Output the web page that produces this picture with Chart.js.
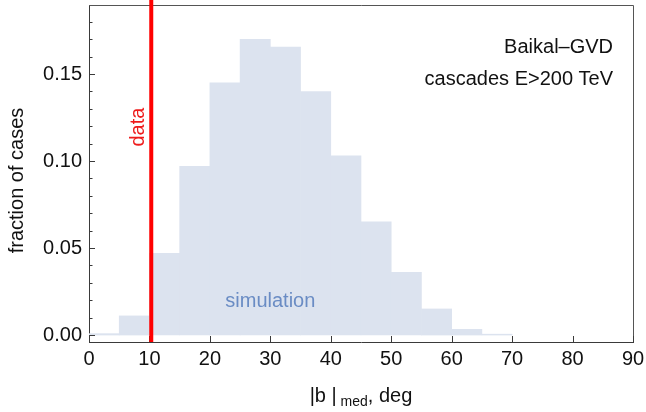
<!DOCTYPE html>
<html><head><meta charset="utf-8">
<script src="https://cdn.jsdelivr.net/npm/chart.js@4/dist/chart.umd.min.js"></script>
<style>html,body{margin:0;padding:0;background:#fff;}#wrap{width:646px;height:412px;}</style>
</head><body><div id="wrap"><canvas id="c" width="646" height="412"></canvas></div>
<script>
// ---- data ----
const binStarts = [0, 5, 10, 15, 20, 25, 30, 35, 40, 45, 50, 55, 60, 65];
const binWidth = 5;
const fractions = [0.0008, 0.011, 0.047, 0.097, 0.145, 0.170, 0.1655, 0.140, 0.103, 0.065, 0.036, 0.015, 0.0033, 0.0005];
const dataValue = 10.3;
const xTicks = [0, 10, 20, 30, 40, 50, 60, 70, 80, 90];
const yTicks = [0, 0.05, 0.10, 0.15];
const yTickLabels = ['0.00', '0.05', '0.10', '0.15'];
const yMinorTicks = [0.01, 0.02, 0.03, 0.04, 0.06, 0.07, 0.08, 0.09, 0.11, 0.12, 0.13, 0.14, 0.16, 0.17, 0.18];
const infoLines = ['Baikal\u2013GVD', 'cascades E>200 TeV'];

const FONT = '"Liberation Sans", Arial, Helvetica, sans-serif';
const AXIS = '#3a3a3a';

const overlay = {
  id: 'overlay',
  afterDatasetsDraw(chart) {
    const {ctx, chartArea: a, scales: {x, y}} = chart;
    ctx.save();
    // frame top & right
    ctx.strokeStyle = '#555';
    ctx.lineWidth = 1;
    ctx.beginPath();
    ctx.moveTo(a.left, a.top + 0.5); ctx.lineTo(a.right + 0.5, a.top + 0.5);
    ctx.lineTo(a.right + 0.5, a.bottom);
    ctx.stroke();
    // ticks
    ctx.strokeStyle = AXIS;
    ctx.beginPath();
    xTicks.forEach(v => { const p = Math.round(x.getPixelForValue(v)) + 0.5; ctx.moveTo(p, a.bottom); ctx.lineTo(p, a.bottom - 6); });
    yTicks.forEach(v => { const p = Math.round(y.getPixelForValue(v)) + 0.5; ctx.moveTo(a.left, p); ctx.lineTo(a.left + 6, p); });
    yMinorTicks.forEach(v => { const p = Math.round(y.getPixelForValue(v)) + 0.5; ctx.moveTo(a.left, p); ctx.lineTo(a.left + 3.5, p); });
    ctx.stroke();
    // red data line
    const dx = x.getPixelForValue(dataValue);
    ctx.strokeStyle = '#ff0000';
    ctx.lineWidth = 4;
    ctx.beginPath(); ctx.moveTo(dx, 0); ctx.lineTo(dx, a.bottom); ctx.stroke();
    // "data" label
    ctx.save();
    ctx.translate(x.getPixelForValue(8.2), y.getPixelForValue(0.1195));
    ctx.rotate(-Math.PI / 2);
    ctx.fillStyle = '#ee1c1c';
    ctx.font = '20px ' + FONT;
    ctx.textAlign = 'center'; ctx.textBaseline = 'middle';
    ctx.fillText('data', 0, 0);
    ctx.restore();
    // simulation label
    ctx.fillStyle = '#6a8cc4';
    ctx.font = '20px ' + FONT;
    ctx.textAlign = 'center'; ctx.textBaseline = 'alphabetic';
    ctx.fillText('simulation', x.getPixelForValue(30), y.getPixelForValue(0.0163));
    // info text
    ctx.fillStyle = '#111';
    ctx.textAlign = 'right';
    ctx.fillText(infoLines[0], x.getPixelForValue(86.7), y.getPixelForValue(0.162));
    ctx.fillText(infoLines[1], x.getPixelForValue(86.7), y.getPixelForValue(0.1437));
    // y title
    ctx.save();
    ctx.translate(17, (a.top + a.bottom) / 2 + 7);
    ctx.rotate(-Math.PI / 2);
    ctx.textAlign = 'center'; ctx.textBaseline = 'middle';
    ctx.font = '20px ' + FONT;
    ctx.fillText('fraction of cases', 0, 0);
    ctx.restore();
    // x title with subscript
    const parts = [['|b |', '20px ' + FONT, 0], [' med', '14px ' + FONT, 4], [', deg', '20px ' + FONT, 0]];
    let total = 0;
    parts.forEach(p => { ctx.font = p[1]; total += ctx.measureText(p[0]).width; });
    let cx = (a.left + a.right) / 2 - total / 2;
    const base = 402;
    ctx.textAlign = 'left';
    parts.forEach(p => { ctx.font = p[1]; ctx.fillText(p[0], cx, base + p[2]); cx += ctx.measureText(p[0]).width; });
    ctx.restore();
  }
};

new Chart(document.getElementById('c'), {
  type: 'bar',
  data: {
    datasets: [{
      label: 'simulation',
      data: binStarts.map((s, i) => ({x: s + binWidth / 2, y: fractions[i]})),
      backgroundColor: '#dce3ef',
      borderWidth: 0,
      barPercentage: 1,
      categoryPercentage: 1
    }]
  },
  options: {
    responsive: false,
    animation: false,
    events: [],
    layout: {padding: {top: 5, right: 13, left: 0, bottom: 0}},
    plugins: {legend: {display: false}, tooltip: {enabled: false}},
    scales: {
      x: {
        type: 'linear', min: 0, max: 90, offset: false,
        afterFit(s) { s.height = 70; s.paddingLeft = 0; s.paddingRight = 0; },
        afterBuildTicks(s) { s.ticks = xTicks.map(v => ({value: v})); },
        grid: {display: false, drawTicks: false},
        border: {display: true, color: AXIS, width: 1},
        ticks: {color: '#111', font: {size: 20, family: FONT}, padding: 5, maxRotation: 0, autoSkip: false}
      },
      y: {
        type: 'linear', min: -0.004, max: 0.1897,
        afterFit(s) { s.width = 89; s.paddingTop = 0; s.paddingBottom = 0; },
        afterBuildTicks(s) { s.ticks = yTicks.map(v => ({value: v})); },
        grid: {display: false, drawTicks: false},
        border: {display: true, color: AXIS, width: 1},
        ticks: {color: '#111', font: {size: 20, family: FONT}, padding: 7, autoSkip: false,
          callback(v) { const i = yTicks.findIndex(t => Math.abs(t - v) < 1e-9); return i >= 0 ? yTickLabels[i] : ''; }}
      }
    }
  },
  plugins: [overlay]
});
</script></body></html>
